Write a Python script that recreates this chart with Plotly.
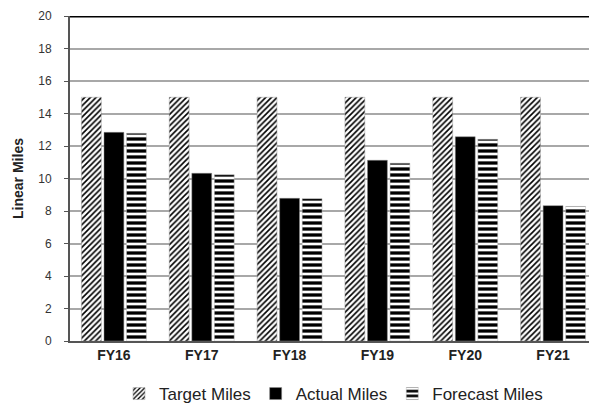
import plotly.graph_objects as go

years = ['FY16', 'FY17', 'FY18', 'FY19', 'FY20', 'FY21']
target_miles = [15, 15, 15, 15, 15, 15]
actual_miles = [12.84, 10.32, 8.78, 11.12, 12.57, 8.33]
forecast_miles = [12.78, 10.23, 8.76, 10.94, 12.41, 8.28]

fig = go.Figure()

# hatched target bars
fig.add_trace(go.Bar(
    x=years, y=target_miles, name='Target Miles',
    marker=dict(
        color='white',
        line=dict(color='#9a9a9a', width=0.5),
        pattern=dict(shape='/', size=4, solidity=0.4, fgcolor='black', fgopacity=1,
                     bgcolor='white', fillmode='overlay')
    )
))

fig.add_trace(go.Bar(
    x=years, y=actual_miles, name='Actual Miles',
    marker=dict(color='black', line=dict(color='#888888', width=0.5))
))

# horizontal stripes for forecast
fig.add_trace(go.Bar(
    x=years, y=forecast_miles, name='Forecast Miles',
    marker=dict(
        color='white',
        line=dict(color='#bbbbbb', width=0.5),
        pattern=dict(shape='-', size=6, solidity=0.55, fgcolor='black', fgopacity=1,
                     bgcolor='white', fillmode='overlay')
    )
))

# page body adds an 8px margin, so the figure is a bit smaller than the window
fig.update_layout(
    width=589,
    height=398,
    margin=dict(l=62, r=0, t=8, b=65, autoexpand=False),
    paper_bgcolor='white',
    plot_bgcolor='white',
    barmode='group',
    bargap=0.23,
    bargroupgap=0.12,
    font=dict(family='Liberation Sans, Arial, sans-serif', size=12, color='#333333'),
    showlegend=True,
    legend=dict(
        orientation='h', x=0.5, xanchor='center', y=-0.163, yanchor='middle',
        font=dict(size=17, color='#222222'), itemwidth=30
    ),
    shapes=[dict(type='line', xref='paper', yref='y', x0=0, x1=1, y0=20, y1=20,
                 line=dict(color='black', width=3))]
)

fig.update_yaxes(
    range=[0, 20], dtick=2, automargin=False,
    showgrid=True, gridcolor='#a8a8a8', gridwidth=2,
    showline=True, linecolor='#555555', linewidth=2,
    ticks='outside', ticklen=4, tickcolor='#555555', tickwidth=1,
    ticklabelstandoff=10,
    tickfont=dict(size=12, color='#333333'),
    title=dict(text='<b>Linear Miles</b>', font=dict(size=14, color='#222222'), standoff=11),
    zeroline=False
)

fig.update_xaxes(
    showline=True, linecolor='#555555', linewidth=2, automargin=False,
    tickfont=dict(size=14, color='#222222'),
    tickvals=years, ticktext=['<b>' + y + '</b>' for y in years]
)

fig.write_html("out.html")
